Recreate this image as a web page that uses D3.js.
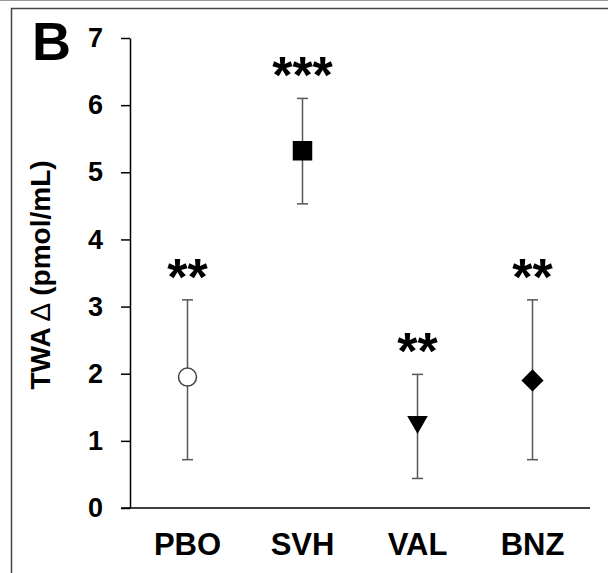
<!DOCTYPE html>
<html>
<head>
<meta charset="utf-8">
<script src="https://cdn.jsdelivr.net/npm/d3@7"></script>
<style>
  body { margin: 0; background: #fff; }
  text { font-family: "Liberation Sans", Arial, sans-serif; font-weight: bold; }
</style>
</head>
<body>
<script>
const categories = ['PBO', 'SVH', 'VAL', 'BNZ']
const means = [1.95, 5.32, 1.28, 1.90]
const upper = [3.10, 6.10, 1.99, 3.10]
const lower = [0.72, 4.53, 0.44, 0.72]
const stars = ['**', '***', '**', '**']
const yTicks = [0, 1, 2, 3, 4, 5, 6, 7]

const m = { width: 608, height: 573 }

const svg = d3.select('body').append('svg')
    .attr('width', m.width)
    .attr('height', m.height)

// panel frame
svg.append('line')
    .attr('x1', 0).attr('x2', m.width)
    .attr('y1', 0.5).attr('y2', 0.5)
    .attr('stroke', '#999')
svg.append('rect')
    .attr('x', 11.5).attr('y', 8.5)
    .attr('width', 700).attr('height', 700)
    .attr('fill', 'none')
    .attr('stroke', '#444')
    .attr('stroke-width', 1.5)

const x = d3.scaleBand()
    .domain(categories)
    .range([130, 590])

const y = d3.scaleLinear()
    .domain([0, 7])
    .range([508, 38])

// y axis
const yAxis = svg.append('g')
    .attr('transform', 'translate(130,0)')
    .call(d3.axisLeft(y).tickValues(yTicks).tickFormat(d3.format('d'))
        .tickSize(9).tickPadding(18).tickSizeOuter(0))
yAxis.select('.domain').attr('stroke', '#000').attr('stroke-width', 1.5)
yAxis.selectAll('.tick line').attr('stroke', '#000').attr('stroke-width', 1.5)
yAxis.selectAll('.tick text')
    .style('font-family', '"Liberation Sans", Arial, sans-serif')
    .style('font-weight', 'bold')
    .style('font-size', '27px')
    .attr('fill', '#000')

// x axis baseline (starts at tick length left of y axis)
svg.append('line')
    .attr('x1', 121).attr('x2', 590)
    .attr('y1', y(0)).attr('y2', y(0))
    .attr('stroke', '#000')
    .attr('stroke-width', 1.5)

svg.selectAll('.xlab')
    .data(categories)
    .enter()
    .append('text')
        .attr('class', 'xlab')
        .attr('x', d => x(d) + x.bandwidth() / 2)
        .attr('y', 555)
        .attr('text-anchor', 'middle')
        .attr('font-size', 31)
        .text(d => d)

// y axis title, delta drawn light like the original
const title = svg.append('text')
    .attr('transform', 'translate(50,' + (y(3.5) + 2) + ') rotate(-90)')
    .attr('text-anchor', 'middle')
    .attr('font-size', 28)
title.append('tspan').text('TWA ')
title.append('tspan').style('font-weight', 'normal').text('\u2206')
title.append('tspan').text(' (pmol/mL)')

svg.append('text')
    .attr('x', 32).attr('y', 60)
    .attr('font-size', 54)
    .text('B')

const cx = i => x(categories[i]) + x.bandwidth() / 2

// error bars
const bars = svg.selectAll('.err')
    .data(categories)
    .enter()
    .append('g')
        .attr('class', 'err')
        .attr('stroke', '#555')
        .attr('stroke-width', 1.5)
bars.append('line')
    .attr('x1', (d, i) => cx(i)).attr('x2', (d, i) => cx(i))
    .attr('y1', (d, i) => y(upper[i])).attr('y2', (d, i) => y(lower[i]))
bars.append('line')
    .attr('x1', (d, i) => cx(i) - 5.5).attr('x2', (d, i) => cx(i) + 5.5)
    .attr('y1', (d, i) => y(upper[i])).attr('y2', (d, i) => y(upper[i]))
bars.append('line')
    .attr('x1', (d, i) => cx(i) - 5.5).attr('x2', (d, i) => cx(i) + 5.5)
    .attr('y1', (d, i) => y(lower[i])).attr('y2', (d, i) => y(lower[i]))

// markers
const symbols = [
    { type: d3.symbolCircle, size: 254, fill: '#fff', rot: 0 },
    { type: d3.symbolSquare, size: 324, fill: '#000', rot: 0 },
    { type: d3.symbolTriangle, size: 140, fill: '#000', rot: 180 },
    { type: d3.symbolSquare, size: 200, fill: '#000', rot: 45 }
]
svg.selectAll('.mark')
    .data(categories)
    .enter()
    .append('path')
        .attr('class', 'mark')
        .attr('d', (d, i) => d3.symbol().type(symbols[i].type).size(symbols[i].size)())
        .attr('transform', (d, i) => 'translate(' + cx(i) + ',' + y(means[i]) + ') rotate(' + symbols[i].rot + ')')
        .attr('fill', (d, i) => symbols[i].fill)
        .attr('stroke', (d, i) => i === 0 ? '#444' : '#000')
        .attr('stroke-width', 1.5)

// significance stars
svg.selectAll('.star')
    .data(categories)
    .enter()
    .append('text')
        .attr('class', 'star')
        .attr('x', (d, i) => cx(i))
        .attr('y', (d, i) => y(upper[i]) - 5)
        .attr('text-anchor', 'middle')
        .attr('font-size', 52)
        .text((d, i) => stars[i])
</script>
</body>
</html>
